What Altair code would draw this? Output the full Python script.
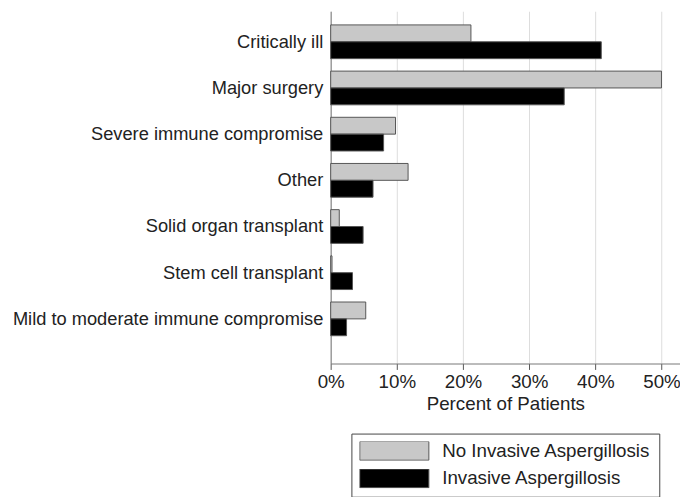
import altair as alt
import pandas as pd

categories = [
    "Critically ill",
    "Major surgery",
    "Severe immune compromise",
    "Other",
    "Solid organ transplant",
    "Stem cell transplant",
    "Mild to moderate immune compromise",
]
series = ["No Invasive Aspergillosis", "Invasive Aspergillosis"]
no_ia = [0.212, 0.500, 0.098, 0.117, 0.013, 0.002, 0.053]
ia = [0.409, 0.353, 0.080, 0.064, 0.049, 0.033, 0.024]
x_ticks = [0, 0.1, 0.2, 0.3, 0.4, 0.5]
colors = ["#c8c8c8", "#000000"]

rows = []
for c, a, b in zip(categories, no_ia, ia):
    rows.append({"category": c, "series": series[0], "value": a})
    rows.append({"category": c, "series": series[1], "value": b})
df = pd.DataFrame(rows)

FONT = "Liberation Sans"
FS = 19

chart = alt.Chart(df).mark_bar(stroke="#555", strokeWidth=1).encode(
    x=alt.X(
        "value:Q",
        scale=alt.Scale(domain=[0, 0.528], nice=False, zero=True),
        axis=alt.Axis(
            values=x_ticks, format=".0%", title="Percent of Patients",
            grid=True, gridColor="#dcdcdc", gridWidth=1, labelFlush=False,
            domainColor="#777", tickColor="#555", tickSize=6,
            labelFontSize=FS, titleFontSize=FS, labelPadding=3,
            titlePadding=4, labelColor="#222", titleColor="#222",
            labelFont=FONT, titleFont=FONT, titleFontWeight="normal",
        ),
    ),
    y=alt.Y(
        "category:N",
        sort=categories,
        scale=alt.Scale(paddingInner=0.27, paddingOuter=0.449, align=0.33),
        axis=alt.Axis(
            title=None, ticks=False, domainColor="#777", grid=False,
            labelFontSize=18.5, labelColor="#222", labelFont=FONT,
            labelPadding=8, labelLimit=400,
        ),
    ),
    yOffset=alt.YOffset("series:N", sort=series, scale=alt.Scale(paddingInner=0, paddingOuter=0)),
    color=alt.Color(
        "series:N",
        sort=series,
        scale=alt.Scale(domain=series, range=colors),
        legend=alt.Legend(
            orient="none", legendX=21, legendY=428, direction="vertical",
            title=None, symbolType="M-1,-0.271H1V0.271H-1Z", symbolSize=4900,
            clipHeight=19, labelFontSize=FS, labelFont=FONT, labelColor="#222",
            labelOffset=13, rowPadding=8, padding=8,
            symbolStrokeColor="#555", symbolStrokeWidth=1,
            strokeColor="#444", labelLimit=400,
        ),
    ),
).properties(
    width=354,
    height=357,
    padding={"left": 327, "top": 0, "right": 0, "bottom": 132},
    autosize=alt.AutoSizeParams(type="none"),
).configure_view(stroke=None)

chart.save("out.html", embed_options={"renderer": "svg", "actions": False})
